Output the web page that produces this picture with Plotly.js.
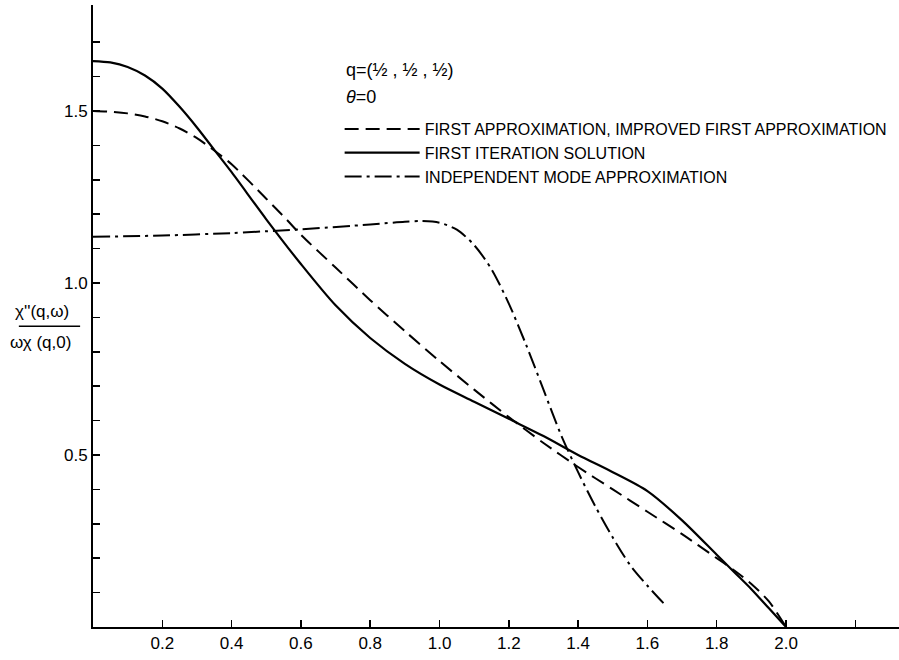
<!DOCTYPE html>
<html>
<head>
<meta charset="utf-8">
<script src="https://cdn.plot.ly/plotly-3.0.1.min.js"></script>
<style>html,body{margin:0;padding:0;background:#fff;}#chart{width:899px;height:660px;}</style>
</head>
<body>
<div id="chart"></div>
<script>
// omega values (x axis) and chi''/(omega chi) values
const xFirstApprox = [0, 0.05, 0.1, 0.15, 0.2, 0.25, 0.3, 0.35, 0.4, 0.5, 0.56, 0.6, 0.7, 0.8, 0.9, 1.0, 1.1, 1.2, 1.3, 1.4, 1.5, 1.6, 1.7, 1.8, 1.85, 1.9, 1.95, 2.0];
const yFirstApprox = [1.50, 1.498, 1.493, 1.484, 1.47, 1.449, 1.421, 1.385, 1.345, 1.245, 1.183, 1.14, 1.045, 0.95, 0.86, 0.773, 0.69, 0.61, 0.535, 0.465, 0.40, 0.335, 0.27, 0.20, 0.165, 0.125, 0.075, 0.0];

const xIteration = [0, 0.05, 0.1, 0.15, 0.2, 0.25, 0.3, 0.35, 0.4, 0.5, 0.6, 0.7, 0.8, 0.9, 1.0, 1.1, 1.2, 1.3, 1.4, 1.5, 1.6, 1.7, 1.8, 1.85, 1.9, 1.95, 2.0];
const yIteration = [1.645, 1.641, 1.628, 1.603, 1.565, 1.512, 1.452, 1.387, 1.322, 1.185, 1.055, 0.935, 0.84, 0.765, 0.705, 0.655, 0.605, 0.555, 0.50, 0.45, 0.395, 0.31, 0.21, 0.16, 0.11, 0.055, 0.0];

const xIndependent = [0, 0.2, 0.4, 0.53, 0.6, 0.8, 0.9, 0.95, 1.0, 1.05, 1.1, 1.15, 1.2, 1.25, 1.3, 1.35, 1.4, 1.45, 1.5, 1.55, 1.6, 1.655];
const yIndependent = [1.134, 1.138, 1.145, 1.152, 1.156, 1.17, 1.178, 1.18, 1.175, 1.155, 1.11, 1.04, 0.94, 0.82, 0.69, 0.56, 0.45, 0.35, 0.26, 0.18, 0.12, 0.06];

const xTickVals = [0.2, 0.4, 0.6, 0.8, 1.0, 1.2, 1.4, 1.6, 1.8, 2.0, 2.2];
const xTickText = ['0.2', '0.4', '0.6', '0.8', '1.0', '1.2', '1.4', '1.6', '1.8', '2.0', ''];
const yTickVals = [0.1, 0.2, 0.3, 0.4, 0.5, 0.6, 0.7, 0.8, 0.9, 1.0, 1.1, 1.2, 1.3, 1.4, 1.5, 1.6, 1.7];
const yTickText = ['', '', '', '', '0.5', '', '', '', '', '1.0', '', '', '', '', '1.5', '', ''];

const seriesNames = ['FIRST APPROXIMATION, IMPROVED FIRST APPROXIMATION', 'FIRST ITERATION SOLUTION', 'INDEPENDENT MODE APPROXIMATION'];

const FONT = 'Liberation Sans, Arial, sans-serif';

const traces = [
  {x: xFirstApprox, y: yFirstApprox, name: seriesNames[0], mode: 'lines',
   line: {color: '#000', width: 2, dash: '14px,7px', shape: 'spline', smoothing: 0.8}},
  {x: xIteration, y: yIteration, name: seriesNames[1], mode: 'lines',
   line: {color: '#000', width: 2.2, shape: 'spline', smoothing: 0.8}},
  {x: xIndependent, y: yIndependent, name: seriesNames[2], mode: 'lines',
   line: {color: '#000', width: 2, dash: '17px,5px,3px,5px', shape: 'spline', smoothing: 0.8}}
];

const layout = {
  width: 899, height: 660,
  margin: {l: 93, r: 0, t: 5, b: 33, autoexpand: false},
  paper_bgcolor: '#fff', plot_bgcolor: '#fff',
  font: {family: FONT, size: 16, color: '#000'},
  showlegend: true,
  legend: {x: 0.306, y: 0.828, xanchor: 'left', yanchor: 'top', bgcolor: 'rgba(0,0,0,0)',
           font: {family: FONT, size: 16, color: '#000'}, itemwidth: 75, tracegroupgap: 0},
  xaxis: {range: [0, 2.326], showline: true, linecolor: '#000', linewidth: 2, mirror: false,
          ticks: 'inside', ticklen: 7, tickwidth: 1.5, tickcolor: '#000',
          tickvals: xTickVals, ticktext: xTickText, showgrid: false, zeroline: false,
          tickfont: {family: FONT, size: 17, color: '#000'}},
  yaxis: {range: [0, 1.808], showline: true, linecolor: '#000', linewidth: 2,
          ticks: 'inside', ticklen: 7, tickwidth: 1.5, tickcolor: '#000',
          tickvals: yTickVals, ticktext: yTickText, showgrid: false, zeroline: false,
          tickfont: {family: FONT, size: 17, color: '#000'}},
  annotations: [
    {xref: 'paper', yref: 'paper', x: 0.311, y: 0.895, xanchor: 'left', yanchor: 'middle', showarrow: false,
     text: 'q=(½ , ½ , ½)', font: {family: FONT, size: 18, color: '#000'}},
    {xref: 'paper', yref: 'paper', x: 0.311, y: 0.852, xanchor: 'left', yanchor: 'middle', showarrow: false,
     text: '<i>θ</i>=0', font: {family: FONT, size: 18, color: '#000'}},
    {xref: 'paper', yref: 'y', x: -0.063, y: 0.918, xanchor: 'center', yanchor: 'middle', showarrow: false,
     text: 'χ\'\'(q,ω)', font: {family: FONT, size: 17, color: '#000'}},
    {xref: 'paper', yref: 'y', x: -0.065, y: 0.826, xanchor: 'center', yanchor: 'middle', showarrow: false,
     text: 'ωχ (q,0)', font: {family: FONT, size: 17, color: '#000'}}
  ],
  shapes: [
    {type: 'line', xref: 'paper', yref: 'y', x0: -0.092, x1: -0.016, y0: 0.874, y1: 0.874,
     line: {color: '#000', width: 1.5}}
  ]
};

Plotly.newPlot('chart', traces, layout, {displayModeBar: false, staticPlot: true});
</script>
</body>
</html>
